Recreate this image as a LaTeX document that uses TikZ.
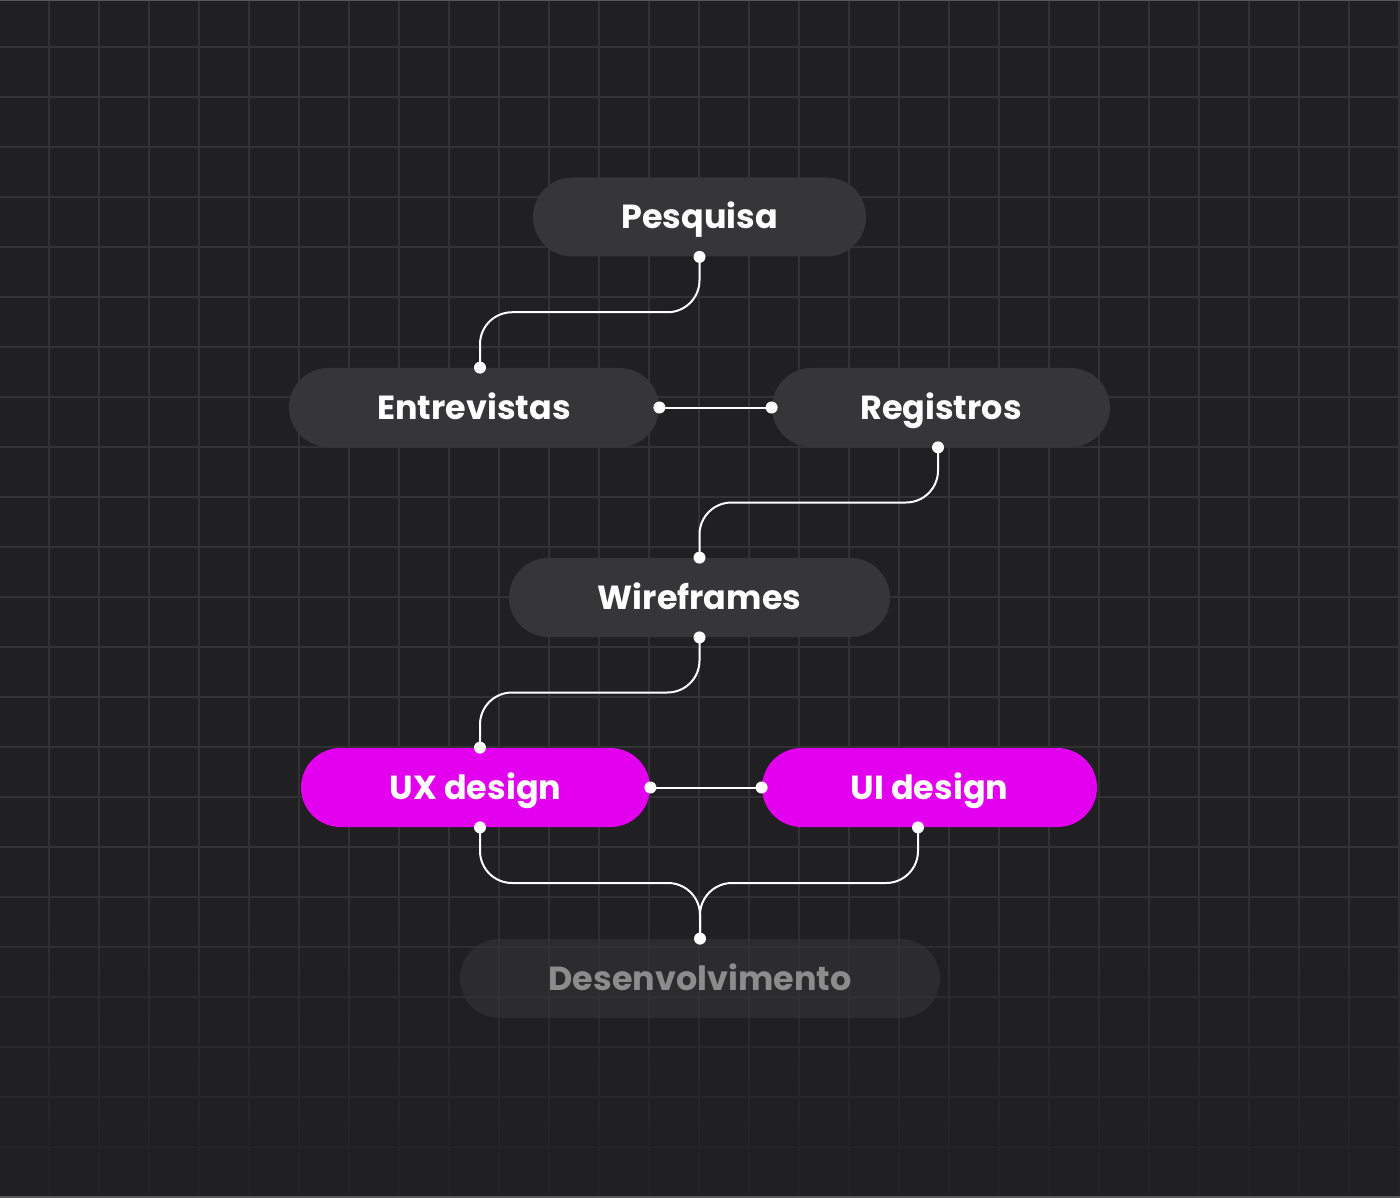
\documentclass[tikz,border=0pt]{standalone}
\usepackage{fontspec}
\setmainfont{Poppins}
\usetikzlibrary{calc}
\definecolor{bg}{HTML}{202022}
\definecolor{gridc}{HTML}{323235}
\definecolor{nodegray}{HTML}{363638}
\definecolor{magentac}{HTML}{E200EF}
\definecolor{devfill}{HTML}{363638}
\definecolor{devtext}{HTML}{8C8C8C}
\tikzset{
  box/.style={rectangle, rounded corners=19.75pt, minimum height=39.5pt, fill=nodegray, text=white,
    font=\bfseries\fontsize{16.7}{20}\selectfont, text height=11.7pt, text depth=0pt, inner sep=0pt},
  hot/.style={box, fill=magentac},
  faint/.style={box, fill=devfill, fill opacity=0.55, text opacity=1, text=devtext},
  conn/.style={draw=white, line width=1pt, rounded corners=16pt},
  dot/.style={fill=white},
  gridline/.style={draw=gridc, line width=0.75pt}
}
\begin{document}
\begin{tikzpicture}[x=0.5pt,y=-0.5pt]
\useasboundingbox (0,0) rectangle (1400,1197);
\fill[bg] (0,0) rectangle (1400,1197);
% grid: full strength down to y=850, then fading out
\foreach \gx in {49,99,...,1399} {
  \draw[gridline] (\gx,0) -- (\gx,850);
  \shade[top color=gridc, bottom color=gridc!12!bg] ({\gx-0.75},850) rectangle ({\gx+0.75},1197);
}
\foreach \gy in {47,97,...,847} \draw[gridline] (0,\gy) -- (1400,\gy);
\foreach \gy in {897,947,...,1197} {
  \pgfmathtruncatemacro{\gt}{100-((\gy-850)/347)*88}
  \draw[gridline, draw=gridc!\gt!bg] (0,\gy) -- (1400,\gy);
}
\draw[draw=gray!60!bg, line width=1pt] (0,0.5) -- (1400,0.5);
\draw[draw=gray!60!bg, line width=1pt] (0,1196.5) -- (1400,1196.5);
% nodes
\node[box, minimum width=166.5pt] (pes) at (699.5,217) {Pesquisa};
\node[box, minimum width=185pt] (ent) at (474,407.5) {Entrevistas};
\node[box, minimum width=169pt] (reg) at (941,407.5) {Registros};
\node[box, minimum width=190.5pt] (wir) at (699.5,597.5) {Wireframes};
\node[hot, minimum width=174.5pt] (ux) at (475.5,787.5) {UX design};
\node[hot, minimum width=167.5pt] (ui) at (929.5,787.5) {UI design};
\node[faint, minimum width=240pt] (dev) at (700,978.5) {Desenvolvimento};
% anchor points
\coordinate (pesB) at (pes.south);
\coordinate (entT) at ([xshift=3pt]ent.north);
\coordinate (entR) at (ent.east);
\coordinate (regL) at (reg.west);
\coordinate (regB) at ([xshift=-1.5pt]reg.south);
\coordinate (wirT) at (wir.north);
\coordinate (wirB) at (wir.south);
\coordinate (uxT) at ([xshift=2.25pt]ux.north);
\coordinate (uxR) at (ux.east);
\coordinate (uiL) at (ui.west);
\coordinate (uxB) at ([xshift=2.25pt]ux.south);
\coordinate (uiB) at ([xshift=-5.75pt]ui.south);
\coordinate (devT) at (dev.north);
% connectors
\draw[conn] (pesB) |- ($(pesB)!0.5!(entT)$) -| (entT);
\draw[conn] (entR) -- (regL);
\draw[conn] (regB) |- ($(regB)!0.5!(wirT)$) -| (wirT);
\draw[conn] (wirB) |- ($(wirB)!0.5!(uxT)$) -| (uxT);
\draw[conn] (uxR) -- (uiL);
\draw[conn] (uxB) |- ($(uxB)!0.5!(devT)$) -| (devT);
\draw[conn] (uiB) |- ($(uiB)!0.5!(devT)$) -| (devT);
% dots
\foreach \p in {pesB,entT,entR,regL,regB,wirT,wirB,uxT,uxR,uiL,uxB,uiB,devT}
  \fill[dot] (\p) circle (3pt);
\end{tikzpicture}
\end{document}
